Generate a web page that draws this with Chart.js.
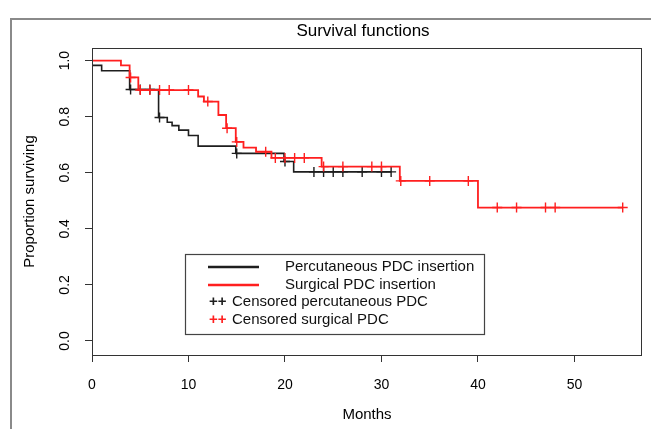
<!DOCTYPE html>
<html><head><meta charset="utf-8">
<script src="https://cdn.jsdelivr.net/npm/chart.js@4.4.1/dist/chart.umd.min.js"></script>
<style>html,body{margin:0;padding:0;background:#fff;}#wrap{width:651px;height:429px;position:relative;}</style>
</head><body><div id="wrap"><canvas id="c" width="651" height="429"></canvas></div>
<script>
// ---- data ----
const xTicks = [0, 10, 20, 30, 40, 50];
const yTicks = [0, 0.2, 0.4, 0.6, 0.8, 1.0];

// Percutaneous PDC insertion (black): step times (months) and survival after each step
const pcTimes = [0, 0, 1.0, 3.9, 6.9, 7.8, 8.3, 9.0, 10.0, 11.0, 14.9, 19.9, 20.9];
const pcSurv  = [1.0, 0.983, 0.964, 0.897, 0.797, 0.780, 0.768, 0.752, 0.733, 0.695, 0.669, 0.640, 0.603];
const pcEnd = 31;
const pcCensored = [4, 5, 6, 7, 15, 20, 23, 24, 25, 26, 28, 30, 31];

// Surgical PDC insertion (red)
const srTimes = [0, 3.0, 3.9, 4.8, 11.0, 11.6, 13.1, 13.9, 14.9, 15.7, 17.0, 18.6, 23.8, 31.9, 40.0];
const srSurv  = [1.0, 0.983, 0.940, 0.895, 0.872, 0.854, 0.806, 0.759, 0.710, 0.690, 0.675, 0.653, 0.622, 0.571, 0.476];
const srEnd = 55;
const srCensored = [4, 5, 6, 7, 8, 10, 12, 14, 15, 18, 19, 20, 21, 22, 24, 26, 29, 30, 32, 35, 39, 42, 44, 47, 48, 55];

const legendLabels = ['Percutaneous PDC insertion', 'Surgical PDC insertion', 'Censored percutaneous PDC', 'Censored surgical PDC'];

// ---- helpers ----
function stepPoints(times, surv, end) {
  const pts = [{x: times[0], y: surv[0]}];
  for (let i = 1; i < times.length; i++) {
    pts.push({x: times[i], y: surv[i - 1]});
    pts.push({x: times[i], y: surv[i]});
  }
  pts.push({x: end, y: surv[surv.length - 1]});
  return pts;
}
function survAt(times, surv, t) {
  let v = surv[0];
  for (let i = 0; i < times.length; i++) if (times[i] <= t) v = surv[i];
  return v;
}

const BLACK = '#1e1e1e', RED = '#ff1f1f';
const FONT = '"Liberation Sans", Arial, sans-serif';

const decor = {
  id: 'decor',
  afterDatasetsDraw(chart) {
    const {ctx, chartArea: a} = chart;
    ctx.save();
    ctx.strokeStyle = '#333'; ctx.lineWidth = 1;
    ctx.strokeRect(Math.round(a.left) + 0.5, Math.round(a.top) + 0.5, Math.round(a.right - a.left) - 1, Math.round(a.bottom - a.top));
    ctx.restore();
  },
  afterDraw(chart) {
    const ctx = chart.ctx;
    ctx.save();
    // outer frame
    ctx.strokeStyle = '#8a8a8a'; ctx.lineWidth = 2;
    ctx.beginPath(); ctx.moveTo(11, 440); ctx.lineTo(11, 19); ctx.lineTo(660, 19); ctx.stroke();
    // title
    ctx.fillStyle = '#000'; ctx.font = '17px ' + FONT; ctx.textAlign = 'center'; ctx.textBaseline = 'middle';
    ctx.fillText('Survival functions', 363, 31);
    // legend
    const L = 185, T = 254, R = 484, B = 334;
    ctx.fillStyle = '#fff'; ctx.fillRect(L, T, R - L, B - T);
    ctx.strokeStyle = '#444'; ctx.lineWidth = 1.2; ctx.strokeRect(L + 0.5, T + 0.5, R - L, B - T);
    const rows = [267, 285, 302, 320];
    ctx.lineWidth = 2.6;
    ctx.strokeStyle = BLACK; ctx.beginPath(); ctx.moveTo(208, rows[0]); ctx.lineTo(259, rows[0]); ctx.stroke();
    ctx.strokeStyle = RED; ctx.beginPath(); ctx.moveTo(208, rows[1]); ctx.lineTo(259, rows[1]); ctx.stroke();
    ctx.font = '15px ' + FONT; ctx.textAlign = 'left'; ctx.fillStyle = '#111';
    ctx.fillText(legendLabels[0], 285, rows[0]);
    ctx.fillText(legendLabels[1], 285, rows[1]);
    ctx.fillText(legendLabels[2], 232, rows[2]);
    ctx.fillText(legendLabels[3], 232, rows[3]);
    ctx.font = 'bold 15px ' + FONT;
    ctx.fillStyle = BLACK; ctx.fillText('++', 209, rows[2]);
    ctx.fillStyle = RED; ctx.fillText('++', 209, rows[3]);
    ctx.restore();
  }
};

new Chart(document.getElementById('c'), {
  type: 'scatter',
  data: {
    datasets: [
      {label: 'Censored surgical PDC', data: srCensored.map(t => ({x: t, y: survAt(srTimes, srSurv, t)})),
       showLine: false, pointStyle: 'cross', pointRadius: 5, pointBorderWidth: 1.4, borderColor: RED, backgroundColor: RED, order: 0},
      {label: 'Surgical PDC insertion', data: stepPoints(srTimes, srSurv, srEnd),
       showLine: true, pointRadius: 0, borderWidth: 1.8, borderColor: RED, tension: 0, order: 1},
      {label: 'Censored percutaneous PDC', data: pcCensored.map(t => ({x: t, y: survAt(pcTimes, pcSurv, t)})),
       showLine: false, pointStyle: 'cross', pointRadius: 5, pointBorderWidth: 1.4, borderColor: BLACK, backgroundColor: BLACK, order: 2},
      {label: 'Percutaneous PDC insertion', data: stepPoints(pcTimes, pcSurv, pcEnd),
       showLine: true, pointRadius: 0, borderWidth: 1.6, borderColor: BLACK, tension: 0, order: 3}
    ]
  },
  options: {
    responsive: false, animation: false, devicePixelRatio: 1,
    layout: {padding: {top: 48, right: 9, left: 0, bottom: 0}},
    plugins: {legend: {display: false}, tooltip: {enabled: false}, title: {display: false}},
    scales: {
      x: {
        type: 'linear', min: 0, max: 57,
        afterBuildTicks: s => { s.ticks = xTicks.map(v => ({value: v})); },
        afterFit: s => { s.height = 74; },
        border: {display: false},
        grid: {display: true, drawOnChartArea: false, drawTicks: true, tickLength: 7, tickColor: '#333', tickWidth: 1},
        ticks: {color: '#000', font: {family: FONT, size: 14}, padding: 15, maxRotation: 0, autoSkip: false},
        title: {display: true, text: 'Months', color: '#000', font: {family: FONT, size: 15}, padding: {top: 0, bottom: 5}}
      },
      y: {
        type: 'linear', min: -0.05, max: 1.045,
        afterBuildTicks: s => { s.ticks = yTicks.map(v => ({value: v})); },
        afterFit: s => { s.width = 92; },
        border: {display: false},
        grid: {display: true, drawOnChartArea: false, drawTicks: true, tickLength: 7, tickColor: '#333', tickWidth: 1},
        ticks: {color: '#000', font: {family: FONT, size: 14}, padding: 10, minRotation: 90, maxRotation: 90,
                crossAlign: 'center', autoSkip: false, callback: v => Number(v).toFixed(1)},
        title: {display: true, text: 'Proportion surviving', color: '#000', font: {family: FONT, size: 15}, padding: {top: 21, bottom: 0}}
      }
    }
  },
  plugins: [decor]
});
</script></body></html>
